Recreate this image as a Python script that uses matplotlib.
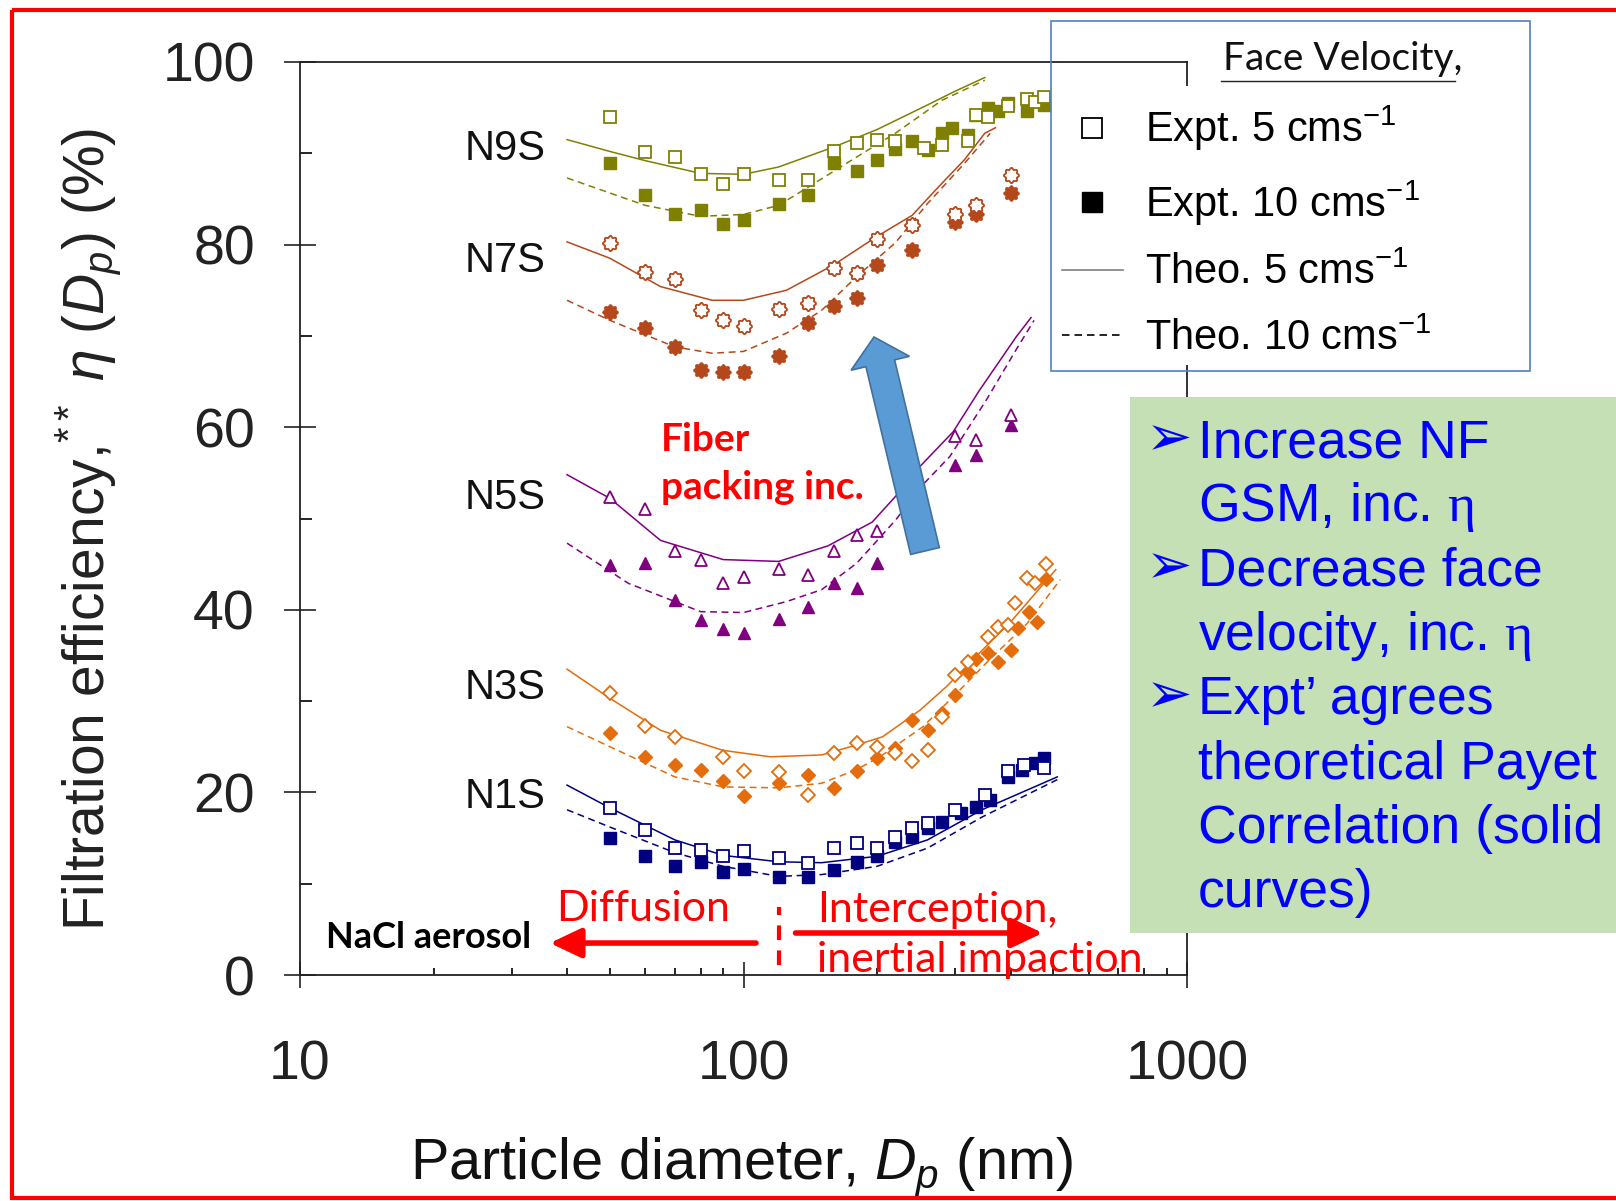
import numpy as np
import matplotlib.pyplot as plt
import matplotlib.patches as mpatches
from matplotlib.lines import Line2D
from matplotlib.path import Path

plt.rcParams['font.family'] = ['Liberation Sans', 'DejaVu Sans']
plt.rcParams['mathtext.fontset'] = 'custom'
plt.rcParams['mathtext.rm'] = 'Liberation Sans'
plt.rcParams['mathtext.it'] = 'Liberation Sans:italic'
plt.rcParams['mathtext.bf'] = 'Liberation Sans:bold'
plt.rcParams['mathtext.sf'] = 'Liberation Serif'

W, H = 1616, 1201


def fx(px):
    return px / W


def fy(py):
    return 1 - py / H


# ---- measured efficiencies (%), particle diameter in nm ----
n9s_open_x = [50, 60, 70, 80, 90, 100, 120, 140, 160, 180, 200, 220, 255, 280, 320, 335, 355, 395, 435, 455, 475]
n9s_open_y = [94.0, 90.1, 89.6, 87.7, 86.6, 87.7, 87.1, 87.1, 90.2, 91.1, 91.5, 91.3, 90.6, 90.9, 91.3, 94.2, 94.0, 95.2, 95.9, 95.6, 96.2]
n9s_fill_x = [50, 60, 70, 80, 90, 100, 120, 140, 160, 180, 200, 220, 240, 260, 280, 295, 320, 335, 355, 375, 395, 435, 475]
n9s_fill_y = [88.9, 85.4, 83.3, 83.8, 82.3, 82.7, 84.5, 85.4, 88.9, 88.1, 89.3, 90.5, 91.3, 90.4, 92.2, 92.8, 92.0, 94.2, 95.0, 94.6, 95.5, 94.6, 95.3]

n7s_open_x = [50, 60, 70, 80, 90, 100, 120, 140, 160, 180, 200, 240, 300, 335, 400]
n7s_open_y = [80.2, 77.0, 76.2, 72.8, 71.7, 71.1, 73.0, 73.6, 77.4, 76.9, 80.6, 82.1, 83.4, 84.3, 87.6]
n7s_fill_x = [50, 60, 70, 80, 90, 100, 120, 140, 160, 180, 200, 240, 300, 335, 400]
n7s_fill_y = [72.6, 70.9, 68.8, 66.3, 66.0, 66.0, 67.8, 71.4, 73.3, 74.1, 77.8, 79.4, 82.5, 83.4, 85.6]

n5s_open_x = [50, 60, 70, 80, 90, 100, 120, 140, 160, 180, 200, 300, 335, 400]
n5s_open_y = [52.4, 51.0, 46.4, 45.5, 42.9, 43.6, 44.5, 43.8, 46.4, 48.2, 48.6, 59.0, 58.6, 61.3]
n5s_fill_x = [50, 60, 70, 80, 90, 100, 120, 140, 160, 180, 200, 300, 335, 400]
n5s_fill_y = [44.9, 45.1, 41.1, 38.9, 37.9, 37.5, 39.0, 40.3, 42.9, 42.4, 45.1, 55.9, 57.0, 60.2]

n3s_open_x = [50, 60, 70, 90, 100, 120, 140, 160, 180, 200, 220, 240, 260, 280, 300, 320, 355, 375, 395, 410, 435, 455, 480]
n3s_open_y = [30.9, 27.3, 26.1, 23.9, 22.3, 22.2, 19.7, 24.3, 25.4, 25.0, 24.3, 23.4, 24.6, 28.3, 32.9, 34.3, 37.0, 38.1, 38.3, 40.7, 43.5, 42.9, 45.0]
n3s_fill_x = [50, 60, 70, 80, 90, 100, 120, 140, 160, 180, 200, 220, 240, 260, 280, 300, 320, 335, 355, 375, 400, 415, 440, 460, 480]
n3s_fill_y = [26.5, 23.9, 23.0, 22.5, 21.2, 19.6, 21.0, 21.9, 20.5, 22.3, 23.8, 24.9, 27.9, 26.8, 28.7, 30.7, 33.2, 34.6, 35.3, 34.3, 35.6, 38.0, 39.8, 38.7, 43.4]

n1s_open_x = [50, 60, 70, 80, 90, 100, 120, 140, 160, 180, 200, 220, 240, 260, 300, 350, 395, 430, 475]
n1s_open_y = [18.3, 15.9, 13.9, 13.7, 13.0, 13.6, 12.8, 12.3, 13.9, 14.5, 13.9, 15.1, 16.1, 16.6, 18.1, 19.7, 22.3, 23.0, 22.7]
n1s_fill_x = [50, 60, 70, 80, 90, 100, 120, 140, 160, 180, 200, 220, 240, 260, 280, 310, 335, 360, 395, 425, 455, 475]
n1s_fill_y = [15.0, 13.0, 11.9, 12.4, 11.3, 11.6, 10.7, 10.7, 11.5, 12.4, 13.0, 14.6, 15.1, 16.1, 16.8, 17.7, 18.4, 19.2, 21.7, 22.5, 23.2, 23.8]

# ---- Payet correlation curves ----
n9s_t5_x = [40, 50, 60, 80, 100, 120, 160, 200, 260, 300, 350]
n9s_t5_y = [91.5, 90.2, 89.2, 87.8, 87.7, 88.5, 90.7, 92.6, 95.3, 96.8, 98.3]
n9s_t10_x = [40, 60, 80, 100, 120, 140, 180, 220, 280, 350]
n9s_t10_y = [87.3, 84.3, 83.1, 83.3, 84.3, 86.3, 89.6, 92.2, 95.8, 98.0]

n7s_t5_x = [40, 50, 65, 85, 100, 125, 160, 200, 240, 275, 315, 350, 370]
n7s_t5_y = [80.3, 78.5, 75.4, 73.9, 73.9, 75.0, 77.8, 80.9, 83.2, 86.3, 89.3, 92.2, 92.8]
n7s_t10_x = [40, 50, 70, 85, 100, 125, 150, 180, 220, 260, 315, 360]
n7s_t10_y = [73.9, 71.7, 68.8, 68.1, 68.3, 70.3, 72.8, 76.5, 80.2, 84.5, 88.9, 92.2]

n5s_t5_x = [40, 50, 65, 90, 120, 155, 195, 220, 250, 297, 340, 412, 445]
n5s_t5_y = [54.8, 52.2, 47.6, 45.5, 45.3, 47.0, 49.6, 52.4, 55.7, 59.5, 64.0, 69.9, 72.0]
n5s_t10_x = [40, 55, 80, 100, 125, 150, 180, 220, 256, 292, 353, 412, 452]
n5s_t10_y = [47.3, 42.9, 39.8, 39.7, 40.9, 42.2, 45.1, 49.8, 53.9, 56.8, 63.0, 68.5, 71.7]

n3s_t5_x = [40, 50, 65, 90, 115, 150, 180, 206, 250, 287, 341, 404, 506]
n3s_t5_y = [33.5, 30.3, 26.8, 24.6, 23.9, 24.1, 25.2, 26.1, 29.0, 31.6, 35.3, 38.9, 44.4]
n3s_t10_x = [40, 50, 70, 90, 120, 150, 180, 203, 254, 303, 358, 436, 518]
n3s_t10_y = [27.2, 25.0, 21.7, 20.6, 20.5, 21.0, 22.5, 23.9, 27.2, 30.9, 34.5, 38.5, 43.3]

n1s_t5_x = [40, 50, 70, 90, 120, 150, 200, 260, 345, 510]
n1s_t5_y = [20.8, 18.3, 14.8, 13.1, 12.4, 12.3, 13.0, 14.8, 18.1, 21.7]
n1s_t10_x = [40, 50, 70, 90, 120, 150, 200, 260, 345, 510]
n1s_t10_y = [18.1, 16.2, 13.4, 11.9, 10.8, 11.0, 11.9, 13.9, 17.3, 21.4]

sample_names = ['N9S', 'N7S', 'N5S', 'N3S', 'N1S']
name_y = [90.5, 78.2, 52.2, 31.4, 19.5]
colors = ['#808000', '#B5481A', '#800080', '#E46C0A', '#000080']

notes = ['Increase NF', 'GSM, inc. $\\mathsf{\\eta}$',
         'Decrease face', 'velocity, inc. $\\mathsf{\\eta}$',
         'Expt\u2019 agrees', 'theoretical Payet', 'Correlation (solid', 'curves)']
note_bullet = [True, False, True, False, True, False, False, False]

# bumpy round marker used for N7S
th = np.linspace(0, 2 * np.pi, 97)
rr = 1 + 0.13 * np.cos(8 * th)
gear = Path(np.column_stack([rr * np.cos(th), rr * np.sin(th)]))

series = [
    (n9s_open_x, n9s_open_y, n9s_fill_x, n9s_fill_y, n9s_t5_x, n9s_t5_y, n9s_t10_x, n9s_t10_y, 's', 8.5),
    (n7s_open_x, n7s_open_y, n7s_fill_x, n7s_fill_y, n7s_t5_x, n7s_t5_y, n7s_t10_x, n7s_t10_y, gear, 11),
    (n5s_open_x, n5s_open_y, n5s_fill_x, n5s_fill_y, n5s_t5_x, n5s_t5_y, n5s_t10_x, n5s_t10_y, '^', 9),
    (n3s_open_x, n3s_open_y, n3s_fill_x, n3s_fill_y, n3s_t5_x, n3s_t5_y, n3s_t10_x, n3s_t10_y, 'D', 7.5),
    (n1s_open_x, n1s_open_y, n1s_fill_x, n1s_fill_y, n1s_t5_x, n1s_t5_y, n1s_t10_x, n1s_t10_y, 's', 8.5),
]

fig = plt.figure(figsize=(W / 100, H / 100), dpi=100)
ax = fig.add_axes([fx(300), fy(975), (1187 - 300) / W, (975 - 62) / H])
ax.set_zorder(1)

for (ox, oy, fx_, fy_, t5x, t5y, t10x, t10y, mk, ms), col in zip(series, colors):
    ax.plot(t5x, t5y, color=col, lw=1.1, zorder=2)
    ax.plot(t10x, t10y, color=col, lw=1.1, dashes=(4.5, 3), zorder=2)
    ax.plot(fx_, fy_, ls='none', marker=mk, ms=ms, mfc=col, mec=col, mew=1.0, zorder=3)
    ax.plot(ox, oy, ls='none', marker=mk, ms=ms, mfc='white', mec=col, mew=1.3, zorder=4)

for name, yv in zip(sample_names, name_y):
    ax.text(35.8, yv, name, fontsize=30, ha='right', va='center', color='#111111')

ax.set_xscale('log')
ax.set_xlim(10, 1000)
ax.set_ylim(0, 100)
ax.set_xticks([10, 100, 1000], labels=['10', '100', '1000'])
ax.set_yticks([0, 20, 40, 60, 80, 100])
ax.set_yticks([10, 30, 50, 70, 90], minor=True)
ax.tick_params(axis='both', which='major', labelsize=40, direction='inout', width=1.2, colors='#222222')
ax.tick_params(axis='y', which='major', length=23, pad=21)
ax.tick_params(axis='x', which='major', length=19, pad=37)
ax.tick_params(axis='y', which='minor', direction='in', length=8.5, width=1.2)
ax.tick_params(axis='x', which='minor', direction='in', length=5, width=1.2)
for sp in ax.spines.values():
    sp.set_linewidth(1.3)
    sp.set_color('#222222')

ax.set_ylabel(r'Filtration efficiency,${}^{**}$ $\eta$ ($D_p$) (%)', fontsize=41, color='#222222')
ax.yaxis.set_label_coords(-0.199, 0.488)
ax.set_xlabel(r'Particle diameter, $D_{p}$ (nm)', fontsize=41.5, color='#111111')
ax.xaxis.set_label_coords(0.498, -0.176)

# mechanism arrows along the bottom
ax.plot([120, 120], [1.1, 7.4], color='red', lw=3, dashes=(3.5, 2.5), clip_on=False, zorder=5)
ax.annotate('', xy=(36.6, 3.5), xytext=(106.7, 3.5),
            arrowprops=dict(arrowstyle='-|>,head_length=0.95,head_width=0.45', color='red', lw=4,
                            mutation_scale=20, shrinkA=0, shrinkB=0))
ax.annotate('', xy=(473, 4.6), xytext=(131, 4.6),
            arrowprops=dict(arrowstyle='-|>,head_length=0.95,head_width=0.45', color='red', lw=4,
                            mutation_scale=20, shrinkA=0, shrinkB=0))

# overlay for frame, callout boxes and the block arrow
ov = fig.add_axes([0, 0, 1, 1])
ov.set_xlim(0, W)
ov.set_ylim(H, 0)
ov.axis('off')
ov.set_zorder(2)
ov.patch.set_alpha(0)

ov.add_patch(mpatches.Rectangle((12, 10), W + 20, 1188, fill=False, ec='red', lw=3))
ov.add_patch(mpatches.Rectangle((1180, 86), 14, 279, fc='white', ec='none'))
ov.add_patch(mpatches.Rectangle((1051, 21), 479, 350, fill=False, ec='#4F81BD', lw=1.2))
ov.add_patch(mpatches.Rectangle((1130, 397), 500, 536, fc='#C5E0B4', ec='none'))
ov.add_patch(mpatches.FancyArrow(925, 551, 874 - 925, 337 - 551, width=29.5, head_width=60,
                                 head_length=27, length_includes_head=True,
                                 fc='#5B9BD5', ec='#41719C', lw=1.2))
ov.plot([1221, 1455], [81, 81], color='#222222', lw=1.0)

# legend
handles = [
    Line2D([], [], ls='none', marker='s', ms=14, mfc='white', mec='black', mew=1.3),
    Line2D([], [], ls='none', marker='s', ms=14, mfc='black', mec='black'),
    Line2D([], [], color='#808080', lw=1.2),
    Line2D([], [], color='black', lw=1.2, dashes=(4.5, 3)),
]
labels = ['Expt. 5 cms$^{-1}$', 'Expt. 10 cms$^{-1}$', 'Theo. 5 cms$^{-1}$', 'Theo. 10 cms$^{-1}$']
fig.legend(handles, labels, loc='upper left', bbox_to_anchor=(fx(1062), fy(104)), frameon=False,
           fontsize=30, handlelength=1.46, handletextpad=0.53, labelspacing=0.6,
           borderpad=0, borderaxespad=0)
fig.text(fx(1223), fy(70), 'Face Velocity,', family='Lato', fontsize=28, color='#111111')

# annotations
fig.text(fx(661), fy(499), 'Fiber\npacking inc.', family='Lato', fontweight='bold', fontsize=28,
         color='red', linespacing=1.45, va='baseline',
         bbox=dict(fc='white', ec='none', pad=4))
fig.text(fx(326), fy(948), 'NaCl aerosol', family='Lato', fontweight='bold', fontsize=26, color='black')
fig.text(fx(556), fy(921), 'Diffusion', family='Lato', fontsize=31, color='red')
fig.text(fx(817), fy(922), 'Interception,', family='Lato', fontsize=31, color='red')
fig.text(fx(817), fy(972), 'inertial impaction', family='Lato', fontsize=31, color='red')

# bullet notes in the green box
for i, (line, bullet) in enumerate(zip(notes, note_bullet)):
    base = 457 + i * 64.3
    if bullet:
        fig.text(fx(1146), fy(base - 2), '\u27a2', family='DejaVu Sans', fontsize=40, color='#0000FF')
    fig.text(fx(1198), fy(base), line, fontsize=38.5, color='#0000FF')

fig.savefig('out.png', dpi=100, facecolor='white')
